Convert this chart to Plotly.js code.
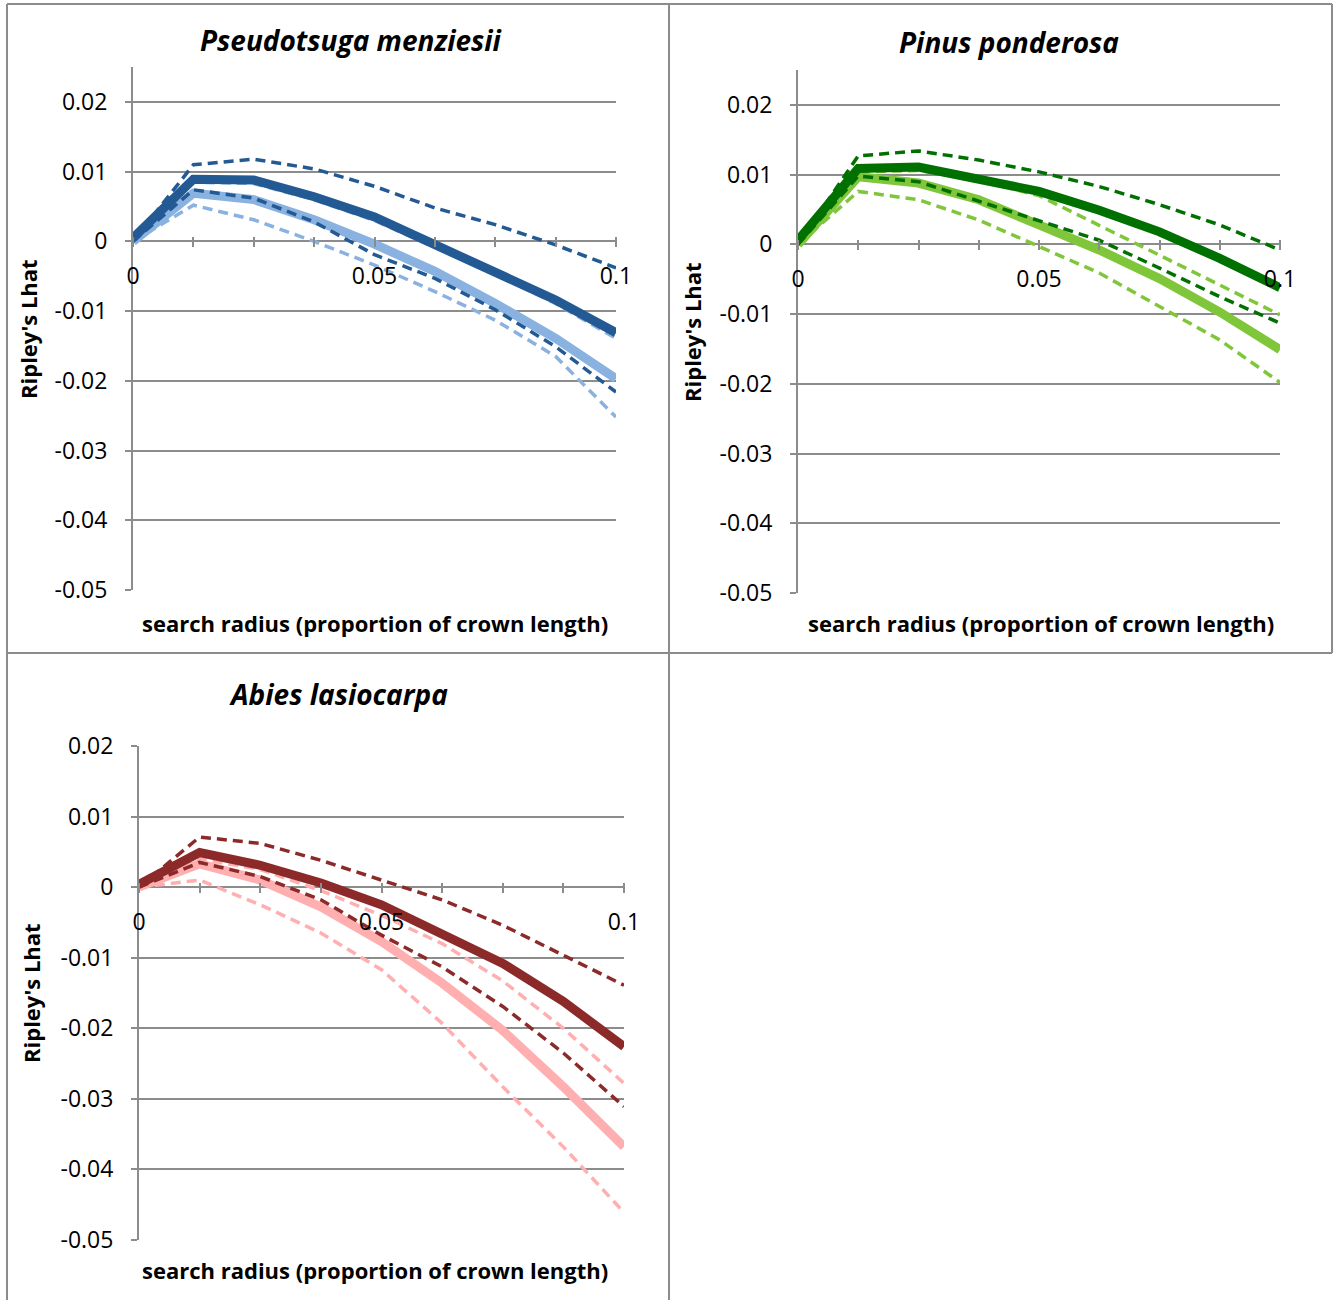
<!DOCTYPE html>
<html>
<head>
<meta charset="utf-8">
<script src="https://cdn.plot.ly/plotly-3.0.1.min.js"></script>
<style>html,body{margin:0;padding:0;background:#fff;}</style>
</head>
<body>
<div id="chart" style="width:1334px;height:1300px;"></div>
<script>
// ---- data ----
const xRadius = [0, 0.0125, 0.025, 0.0375, 0.05, 0.0625, 0.075, 0.0875, 0.1];

const xTickVals = [0, 0.0125, 0.025, 0.0375, 0.05, 0.0625, 0.075, 0.0875, 0.1];
const xTickText = ['0', '', '', '', '0.05', '', '', '', '0.1'];
const yTickVals = [-0.05, -0.04, -0.03, -0.02, -0.01, 0, 0.01, 0.02];
const yTickText = ['-0.05', '-0.04', '-0.03', '-0.02', '-0.01', '0', '0.01', '0.02'];

const panelTitles = ['Pseudotsuga menziesii', 'Pinus ponderosa', 'Abies lasiocarpa'];
const xTitle = 'search radius (proportion of crown length)';
const yTitle = "Ripley's Lhat";

// Pseudotsuga menziesii
const psmeDarkSolid  = [0.0005, 0.0089, 0.0088, 0.0064, 0.0035, -0.0005, -0.0043, -0.0084, -0.0131];
const psmeLightSolid = [0, 0.0069, 0.0060, 0.0031, -0.0004, -0.0043, -0.0089, -0.0139, -0.0197];
const psmeDarkUpper  = [0, 0.0110, 0.0118, 0.0104, 0.0079, 0.0048, 0.0024, -0.0005, -0.0038];
const psmeDarkLower  = [0, 0.0074, 0.0062, 0.0028, -0.0019, -0.0053, -0.0098, -0.0151, -0.0216];
const psmeLightUpper = [0, 0.0085, 0.0083, 0.0060, 0.0030, -0.0009, -0.0047, -0.0089, -0.0139];
const psmeLightLower = [0, 0.0052, 0.0031, 0.0000, -0.0034, -0.0072, -0.0113, -0.0165, -0.0252];

// Pinus ponderosa
const pipoDarkSolid  = [0.0006, 0.0109, 0.0111, 0.0095, 0.0076, 0.0049, 0.0018, -0.0020, -0.0062];
const pipoLightSolid = [0, 0.0097, 0.0088, 0.0064, 0.0028, -0.0008, -0.0049, -0.0097, -0.0151];
const pipoDarkUpper  = [0, 0.0127, 0.0134, 0.0121, 0.0104, 0.0083, 0.0057, 0.0028, -0.0008];
const pipoDarkLower  = [0, 0.0098, 0.0090, 0.0062, 0.0035, 0.0006, -0.0034, -0.0075, -0.0113];
const pipoLightUpper = [0, 0.0104, 0.0106, 0.0092, 0.0070, 0.0027, -0.0016, -0.0059, -0.0101];
const pipoLightLower = [0, 0.0076, 0.0064, 0.0035, -0.0003, -0.0041, -0.0089, -0.0137, -0.0198];

// Abies lasiocarpa
const ablaDarkSolid  = [0.0004, 0.0049, 0.0031, 0.0006, -0.0025, -0.0065, -0.0108, -0.0162, -0.0226];
const ablaLightSolid = [0, 0.0033, 0.0010, -0.0028, -0.0077, -0.0136, -0.0203, -0.0283, -0.0368];
const ablaDarkUpper  = [0, 0.0071, 0.0062, 0.0038, 0.0010, -0.0018, -0.0054, -0.0096, -0.0139];
const ablaDarkLower  = [0, 0.0035, 0.0015, -0.0018, -0.0068, -0.0113, -0.0169, -0.0235, -0.0311];
const ablaLightUpper = [0, 0.0040, 0.0025, -0.0005, -0.0040, -0.0080, -0.0133, -0.0200, -0.0278];
const ablaLightLower = [0, 0.0010, -0.0025, -0.0065, -0.0117, -0.0193, -0.0283, -0.0368, -0.0461];

// ---- styling / layout ----
const W = 1334, H = 1300;
const FONT = 'Open Sans, Noto Sans, sans-serif';
const GRID = '#8c8c8c';
const fx = px => px / W;
const fy = py => 1 - py / H;

const panels = [
  { id: '',  title: panelTitles[0], xl: 133, xr: 616, yTop: 67.1, yBot: 590, yMax: 0.025,
    dark: '#235A94', light: '#8AB2E1',
    series: [psmeLightSolid, psmeLightUpper, psmeLightLower, psmeDarkUpper, psmeDarkLower, psmeDarkSolid],
    titleX: 351, titleY: 40, xtX: 375, xtY: 623, ytX: 28, ytY: 329 },
  { id: '2', title: panelTitles[1], xl: 798, xr: 1280, yTop: 70.1, yBot: 593, yMax: 0.025,
    dark: '#007000', light: '#80C63B',
    series: [pipoLightSolid, pipoLightUpper, pipoLightLower, pipoDarkUpper, pipoDarkLower, pipoDarkSolid],
    titleX: 1009, titleY: 42, xtX: 1041, xtY: 623, ytX: 692, ytY: 332 },
  { id: '3', title: panelTitles[2], xl: 139, xr: 624, yTop: 746, yBot: 1240, yMax: 0.02,
    dark: '#8C2A2A', light: '#FFAFAF',
    series: [ablaLightSolid, ablaLightUpper, ablaLightLower, ablaDarkUpper, ablaDarkLower, ablaDarkSolid],
    titleX: 338, titleY: 694, xtX: 375, xtY: 1270, ytX: 31, ytY: 993 }
];

const traces = [];
const layout = {
  width: W, height: H,
  margin: { l: 0, r: 0, t: 0, b: 0 },
  paper_bgcolor: '#ffffff', plot_bgcolor: 'rgba(0,0,0,0)',
  showlegend: false,
  font: { family: FONT, size: 23, color: '#000' },
  annotations: [],
  shapes: []
};

const yMin = -0.05;
panels.forEach(p => {
  const xa = 'x' + p.id, ya = 'y' + p.id;
  const styles = [
    { color: p.light, width: 9, dash: 'solid' },
    { color: p.light, width: 3.5, dash: '10px,6px' },
    { color: p.light, width: 3.5, dash: '10px,6px' },
    { color: p.dark,  width: 3.5, dash: '10px,6px' },
    { color: p.dark,  width: 3.5, dash: '10px,6px' },
    { color: p.dark,  width: 9, dash: 'solid' }
  ];
  p.series.forEach((s, i) => {
    traces.push({
      type: 'scatter', mode: 'lines', x: xRadius, y: s,
      xaxis: xa, yaxis: ya, hoverinfo: 'skip',
      line: styles[i]
    });
  });
  const zeroPx = p.yBot - (0 - yMin) / (p.yMax - yMin) * (p.yBot - p.yTop);
  layout['yaxis' + p.id] = {
    domain: [fy(p.yBot), fy(p.yTop)], range: [yMin, p.yMax], anchor: xa,
    tickmode: 'array', tickvals: yTickVals, ticktext: yTickText,
    ticks: 'outside', ticklen: 6, tickwidth: 2, tickcolor: GRID,
    showline: true, linecolor: GRID, linewidth: 2,
    showgrid: true, gridcolor: GRID, gridwidth: 2, zeroline: false,
    ticklabelstandoff: 13,
    tickfont: { family: FONT, size: 23, color: '#000' }
  };
  layout['xaxis' + p.id] = {
    domain: [fx(p.xl), fx(p.xr)], range: [0, 0.1],
    anchor: 'free', position: fy(zeroPx - 5),
    tickmode: 'array', tickvals: xTickVals, ticktext: xTickText,
    ticks: 'outside', ticklen: 10, tickwidth: 2, tickcolor: GRID,
    showline: false, showgrid: false, zeroline: false,
    ticklabelstandoff: 9,
    tickfont: { family: FONT, size: 23, color: '#000' }
  };
  layout.annotations.push(
    { xref: 'paper', yref: 'paper', x: fx(p.titleX), y: fy(p.titleY), xanchor: 'center', yanchor: 'middle',
      showarrow: false, text: p.title,
      font: { family: FONT, size: 28, color: '#000', weight: 'bold', style: 'italic' } },
    { xref: 'paper', yref: 'paper', x: fx(p.xtX), y: fy(p.xtY), xanchor: 'center', yanchor: 'middle',
      showarrow: false, text: xTitle,
      font: { family: FONT, size: 22, color: '#000', weight: 'bold' } },
    { xref: 'paper', yref: 'paper', x: fx(p.ytX), y: fy(p.ytY), xanchor: 'center', yanchor: 'middle',
      showarrow: false, text: yTitle, textangle: -90,
      font: { family: FONT, size: 22, color: '#000', weight: 'bold' } }
  );
});

// panel borders
const BORDER = { color: '#8c8c8c', width: 2 };
const seg = (x0, y0, x1, y1) => ({ type: 'line', xref: 'paper', yref: 'paper',
  x0: fx(x0), y0: fy(y0), x1: fx(x1), y1: fy(y1), line: BORDER, layer: 'above' });
layout.shapes.push(
  seg(7, 4, 1332, 4),
  seg(7, 4, 7, 1300),
  seg(669, 4, 669, 1300),
  seg(1332, 4, 1332, 653),
  seg(7, 653, 1332, 653)
);

Plotly.newPlot('chart', traces, layout, { staticPlot: true, displayModeBar: false });
</script>
</body>
</html>
